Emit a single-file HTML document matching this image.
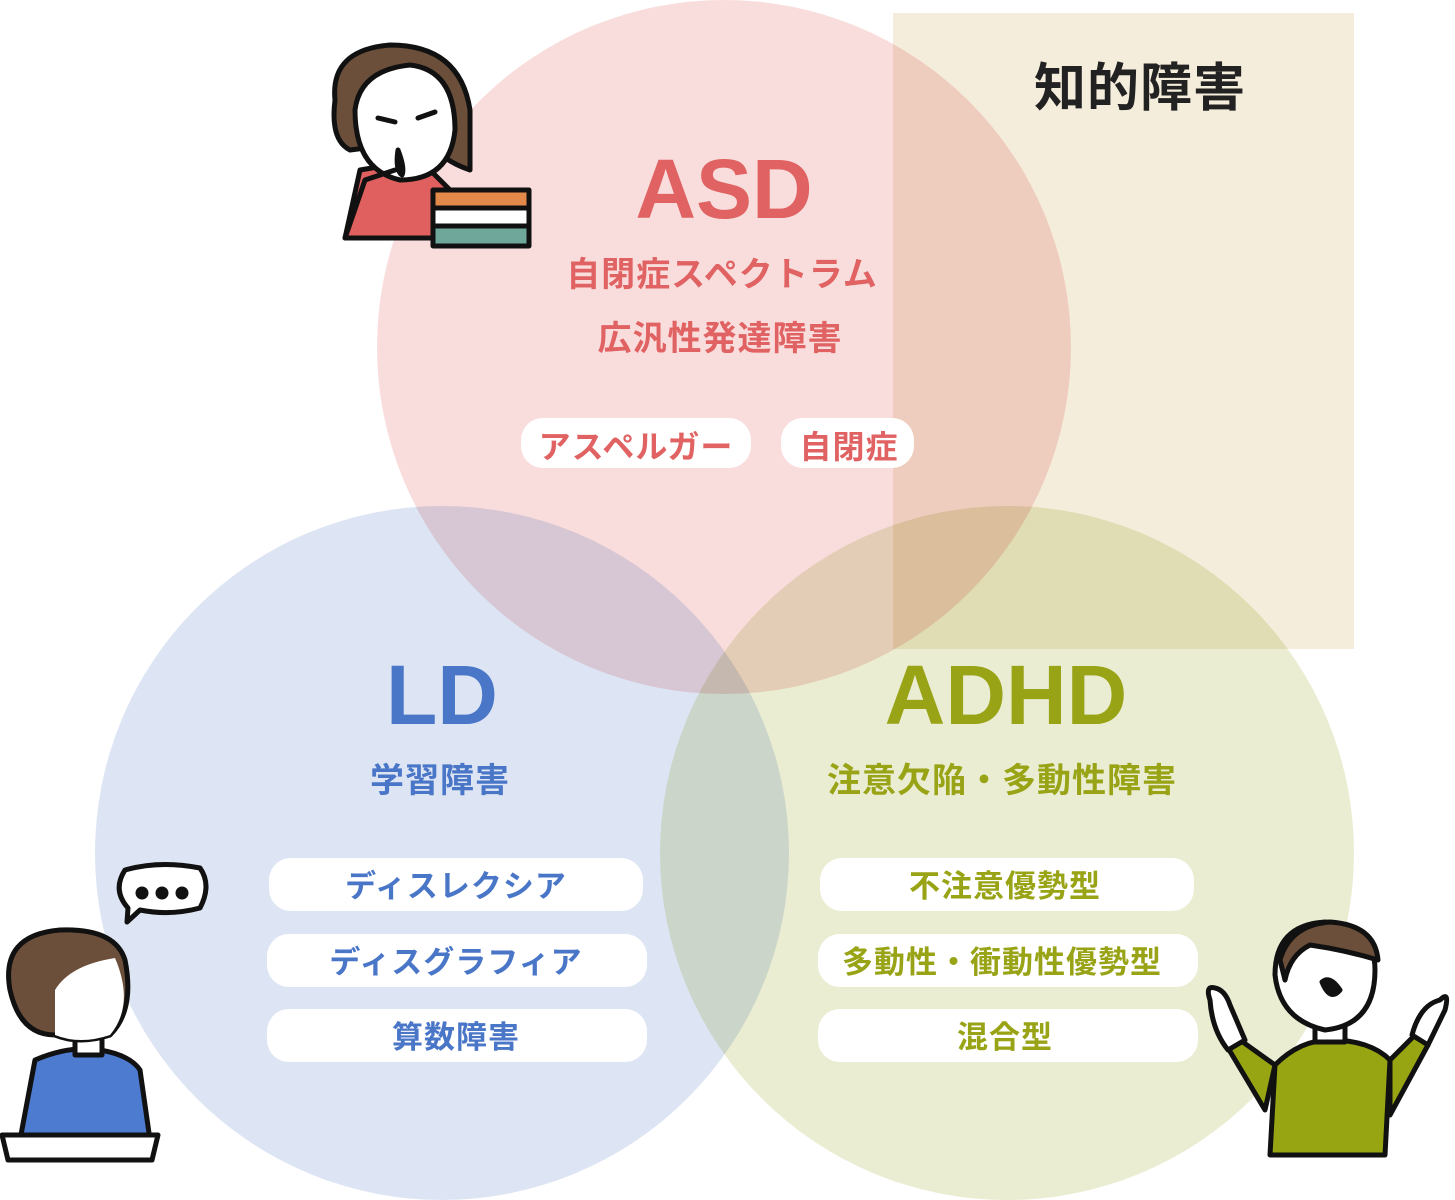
<!DOCTYPE html>
<html><head><meta charset="utf-8"><style>
html,body{margin:0;padding:0;background:#fff}
body{width:1455px;height:1200px;overflow:hidden;position:relative}
svg{position:absolute;left:0;top:0}
text{font-family:"Liberation Sans","Noto Sans CJK JP",sans-serif}
.j{font-weight:bold;letter-spacing:1px}
</style></head><body>
<svg width="1455" height="1200" viewBox="0 0 1455 1200">
<g style="isolation:isolate">
<rect x="893" y="13" width="461" height="636" fill="#f5eddb"/>
<circle cx="724" cy="347" r="347" fill="#f9dddd" style="mix-blend-mode:multiply"/>
<circle cx="442" cy="853" r="347" fill="#dde5f4" style="mix-blend-mode:multiply"/>
<circle cx="1007" cy="853" r="347" fill="#eaedd2" style="mix-blend-mode:multiply"/>
</g>
<text class="j" x="1140" y="106" font-size="52" text-anchor="middle" fill="#222">知的障害</text>
<text x="724" y="218" font-size="84" text-anchor="middle" fill="#e06262" font-weight="bold">ASD</text>
<g class="j" font-size="34" text-anchor="middle" fill="#e06262">
<text x="722" y="286">自閉症スペクトラム</text>
<text x="720" y="350">広汎性発達障害</text>
</g>
<rect x="521" y="418" width="230" height="50" rx="22" fill="#fff"/>
<text class="j" x="636" y="458" font-size="32" text-anchor="middle" fill="#e06262">アスペルガー</text>
<rect x="781" y="418" width="133" height="50" rx="22" fill="#fff"/>
<text class="j" x="849" y="458" font-size="32" text-anchor="middle" fill="#e06262">自閉症</text>
<text x="442" y="724" font-size="84" text-anchor="middle" fill="#4a76c8" font-weight="bold">LD</text>
<text class="j" x="440" y="792" font-size="34" text-anchor="middle" fill="#4a76c8">学習障害</text>
<g class="j" font-size="31" text-anchor="middle" fill="#4a76c8">
<rect x="269" y="858" width="374" height="53" rx="22" fill="#fff"/><text x="456" y="897">ディスレクシア</text>
<rect x="267" y="934" width="380" height="53" rx="22" fill="#fff"/><text x="456" y="973">ディスグラフィア</text>
<rect x="267" y="1009" width="380" height="53" rx="22" fill="#fff"/><text x="456" y="1048">算数障害</text>
</g>
<text x="1006" y="724" font-size="84" text-anchor="middle" fill="#98a315" font-weight="bold">ADHD</text>
<text class="j" x="1002" y="792" font-size="34" text-anchor="middle" fill="#98a315">注意欠陥・多動性障害</text>
<g class="j" font-size="31" text-anchor="middle" fill="#98a315">
<rect x="820" y="858" width="374" height="53" rx="22" fill="#fff"/><text x="1005" y="897">不注意優勢型</text>
<rect x="818" y="934" width="380" height="53" rx="22" fill="#fff"/><text x="1002" y="973">多動性・衝動性優勢型</text>
<rect x="818" y="1009" width="380" height="53" rx="22" fill="#fff"/><text x="1005" y="1048">混合型</text>
</g>
<!-- girl top-left -->
<g stroke="#111" stroke-width="5" stroke-linecap="round" stroke-linejoin="round">
<path d="M345 238 L360 170 L420 160 L460 200 L455 238 Z" fill="#e06060"/>
<path d="M335 100 Q330 50 390 45 Q460 45 470 110 L470 170 Q440 160 430 140 L350 150 Q330 140 335 100Z" fill="#6b4f3a"/>
<path d="M355 110 Q360 70 410 65 Q455 70 455 130 Q450 180 400 180 Q355 170 355 110Z" fill="#fff"/>
<path d="M345 238 L365 180 L395 170" fill="none"/>
<path d="M398 150 Q405 168 402 175 Q395 170 398 150" fill="#111"/>
<path d="M378 118 L395 122 M418 118 L435 112" fill="none"/>
<rect x="433" y="190" width="96" height="18" fill="#e38a4a"/>
<rect x="433" y="208" width="96" height="18" fill="#fff"/>
<rect x="433" y="226" width="96" height="20" fill="#6fa89a"/>
</g>
<!-- boy bottom-left -->
<g stroke="#111" stroke-width="5" stroke-linecap="round" stroke-linejoin="round">
<path d="M125 870 Q160 860 200 868 Q212 885 200 908 Q170 916 140 910 L127 922 L128 908 Q112 890 125 870Z" fill="#fff"/>
<circle cx="142" cy="893" r="4" fill="#111"/><circle cx="162" cy="893" r="4" fill="#111"/><circle cx="182" cy="893" r="4" fill="#111"/>
<path d="M20 1140 L35 1060 Q70 1045 100 1050 Q130 1055 140 1070 L150 1140Z" fill="#4d7bd0"/>
<path d="M75 1040 L75 1055 L102 1055 L102 1040" fill="#fff"/>
<path d="M10 990 Q0 935 60 930 Q115 928 125 960 Q135 1010 110 1035 Q80 1045 55 1035 Q20 1035 10 990Z" fill="#6b4f3a"/>
<path d="M55 1035 L55 990 Q70 965 115 958 Q135 1005 110 1035 Q80 1045 55 1035Z" fill="#fff" stroke="none"/>
<path d="M2 1135 L158 1135 L152 1160 L8 1160Z" fill="#fff"/>
</g>
<!-- boy bottom-right -->
<g stroke="#111" stroke-width="5" stroke-linecap="round" stroke-linejoin="round">
<path d="M1270 1155 L1275 1065 Q1300 1040 1330 1040 Q1370 1040 1390 1060 L1385 1155Z" fill="#98a512"/>
<path d="M1275 1065 L1240 1040 L1228 1048 L1265 1110 Z" fill="#98a512"/>
<path d="M1390 1060 L1415 1035 L1428 1045 L1390 1115 Z" fill="#98a512"/>
<path d="M1210 1000 Q1205 985 1215 988 Q1225 990 1230 1005 L1245 1040 L1228 1050 Q1212 1030 1210 1000Z" fill="#fff"/>
<path d="M1440 1000 Q1450 990 1445 1010 L1428 1045 L1412 1035 Q1420 1005 1440 1000Z" fill="#fff"/>
<path d="M1315 1025 L1315 1042 L1345 1042 L1345 1025" fill="#fff"/>
<path d="M1275 975 Q1275 925 1325 922 Q1375 925 1375 970 Q1375 1025 1325 1030 Q1280 1020 1275 975Z" fill="#fff"/>
<path d="M1280 960 Q1290 925 1330 922 Q1375 925 1378 960 Q1345 950 1310 945 Q1290 955 1285 980Z" fill="#6b4f3a"/>
<path d="M1322 982 Q1330 975 1340 990 Q1330 1002 1322 982Z" fill="#111"/>
</g>
</svg>
</body></html>
